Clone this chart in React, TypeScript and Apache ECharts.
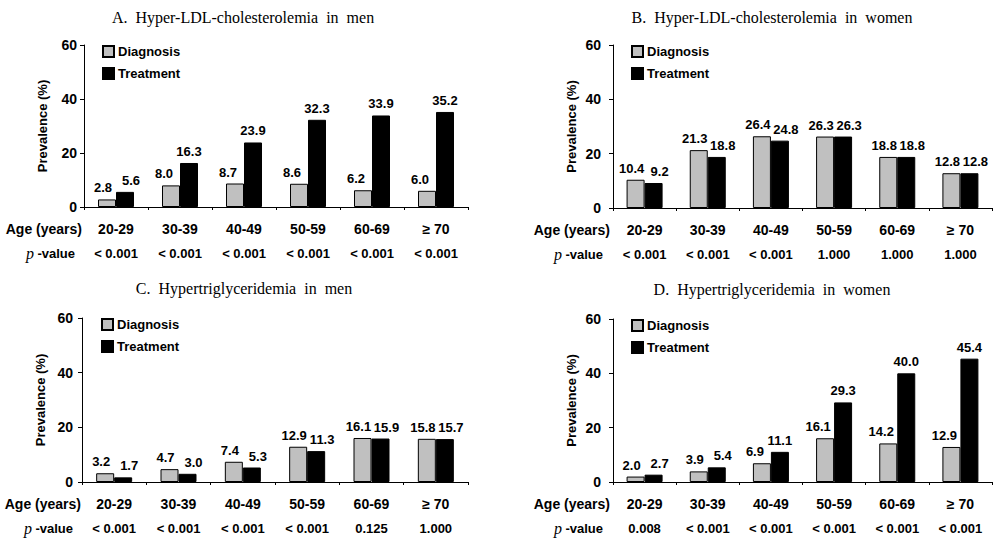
import React, { useEffect, useRef } from "react";
import * as echarts from "echarts";

const categories = ["20-29", "30-39", "40-49", "50-59", "60-69", "≥ 70"];
const titles = [
  "A.  Hyper-LDL-cholesterolemia  in  men",
  "B.  Hyper-LDL-cholesterolemia  in  women",
  "C.  Hypertriglyceridemia  in  men",
  "D.  Hypertriglyceridemia  in  women",
];
const diagA = [2.8, 8.0, 8.7, 8.6, 6.2, 6.0];
const treatA = [5.6, 16.3, 23.9, 32.3, 33.9, 35.2];
const diagB = [10.4, 21.3, 26.4, 26.3, 18.8, 12.8];
const treatB = [9.2, 18.8, 24.8, 26.3, 18.8, 12.8];
const diagC = [3.2, 4.7, 7.4, 12.9, 16.1, 15.8];
const treatC = [1.7, 3.0, 5.3, 11.3, 15.9, 15.7];
const diagD = [2.0, 3.9, 6.9, 16.1, 14.2, 12.9];
const treatD = [2.7, 5.4, 11.1, 29.3, 40.0, 45.4];
const pA = ["< 0.001", "< 0.001", "< 0.001", "< 0.001", "< 0.001", "< 0.001"];
const pB = ["< 0.001", "< 0.001", "< 0.001", "1.000", "1.000", "1.000"];
const pC = ["< 0.001", "< 0.001", "< 0.001", "< 0.001", "0.125", "1.000"];
const pD = ["0.008", "< 0.001", "< 0.001", "< 0.001", "< 0.001", "< 0.001"];
const yTicks = { min: 0, max: 60, interval: 20 };

const SANS = "Liberation Sans";
const SERIF = "Liberation Serif";

const panels = [
  { diag: diagA, treat: treatA, p: pA, grid: { left: 84, top: 45, width: 384, height: 162 }, titleX: 238, titleY: 4, labelMargin: 7, legend: { left: 97, top: 40 }, ageX: 82, pX: 75 },
  { diag: diagB, treat: treatB, p: pB, grid: { left: 613, top: 45, width: 379, height: 163 }, titleX: 767, titleY: 4, labelMargin: 12, legend: { left: 626, top: 40 }, ageX: 610, pX: 603 },
  { diag: diagC, treat: treatC, p: pC, grid: { left: 82, top: 318, width: 386, height: 164 }, titleX: 239, titleY: 275, labelMargin: 9, legend: { left: 96, top: 313 }, ageX: 81, pX: 73 },
  { diag: diagD, treat: treatD, p: pD, grid: { left: 613, top: 319, width: 379, height: 163 }, titleX: 767, titleY: 276, labelMargin: 12, legend: { left: 626, top: 314 }, ageX: 610, pX: 603 },
];

export default function App() {
  const ref = useRef<HTMLDivElement>(null);
  useEffect(() => {
    document.body.style.margin = "0";
    if (!ref.current) return;
    const chart = echarts.init(ref.current, null, { renderer: "svg" });
    const labelStyle = {
      show: true,
      position: "top",
      distance: 5,
      fontFamily: SANS,
      fontWeight: "bold",
      fontSize: 13,
      color: "#000",
      formatter: (p: any) => Number(p.value).toFixed(1),
    };
    const close = (a: number, b: number) => Math.abs(a - b) < 4;
    const diagShift = (d: number, t: number) => (close(d, t) ? -4 : t > d ? -7 : 0);
    const treatShift = (t: number, d: number) => (close(t, d) ? 6 : 0);
    const option: any = {
      animation: false,
      backgroundColor: "#fff",
      title: panels.map((pn, i) => ({
        text: titles[i],
        left: pn.titleX,
        top: pn.titleY,
        textAlign: "center",
        textStyle: { fontFamily: SERIF, fontSize: 16, fontWeight: "normal", color: "#000" },
      })),
      legend: panels.map((pn) => ({
        data: ["Diagnosis", "Treatment"],
        orient: "vertical",
        left: pn.legend.left,
        top: pn.legend.top,
        itemWidth: 11,
        itemHeight: 11,
        itemGap: 9,
        icon: "rect",
        selectedMode: false,
        textStyle: { fontFamily: SANS, fontWeight: "bold", fontSize: 13, color: "#000", padding: [0, 0, 0, -1] },
      })),
      grid: panels.map((pn) => ({ ...pn.grid, containLabel: false })),
      xAxis: panels.map((pn, i) => ({
        type: "category",
        gridIndex: i,
        data: categories,
        axisLine: { lineStyle: { color: "#000", width: 1 } },
        axisTick: { show: true, length: 3, lineStyle: { color: "#000" } },
        axisLabel: {
          interval: 0,
          margin: 10,
          formatter: (v: string, idx: number) => `{a|${v}}\n{b|${pn.p[idx]}}`,
          rich: {
            a: { fontFamily: SANS, fontWeight: "bold", fontSize: 14, lineHeight: 24, color: "#000" },
            b: { fontFamily: SANS, fontWeight: "bold", fontSize: 13, lineHeight: 24, color: "#000" },
          },
        },
      })),
      yAxis: panels.map((pn, i) => ({
        type: "value",
        gridIndex: i,
        ...yTicks,
        name: "Prevalence (%)",
        nameLocation: "middle",
        nameGap: 35,
        nameTextStyle: { fontFamily: SANS, fontWeight: "bold", fontSize: 13, color: "#000" },
        splitLine: { show: false },
        axisLine: { show: true, lineStyle: { color: "#000", width: 1 } },
        axisTick: { show: true, length: 4, lineStyle: { color: "#000" } },
        axisLabel: { margin: pn.labelMargin, fontFamily: SANS, fontWeight: "bold", fontSize: 14, color: "#000" },
      })),
      series: panels.flatMap((pn, i) => [
        {
          name: "Diagnosis",
          type: "bar",
          xAxisIndex: i,
          yAxisIndex: i,
          data: pn.diag.map((v, k) => ({ value: v, label: { offset: [diagShift(v, pn.treat[k]), 0] } })),
          barWidth: 18,
          barGap: "0%",
          itemStyle: { color: "#c0c0c0", borderColor: "#000", borderWidth: 1 },
          label: labelStyle,
        },
        {
          name: "Treatment",
          type: "bar",
          xAxisIndex: i,
          yAxisIndex: i,
          data: pn.treat.map((v, k) => ({ value: v, label: { offset: [treatShift(v, pn.diag[k]), 0] } })),
          barWidth: 18,
          barGap: "0%",
          itemStyle: { color: "#000", borderColor: "#000", borderWidth: 1 },
          label: labelStyle,
        },
      ]),
      graphic: panels.flatMap((pn) => [
        {
          type: "text",
          x: pn.ageX,
          y: pn.grid.top + pn.grid.height + 22,
          style: {
            text: "Age (years)",
            align: "right",
            verticalAlign: "middle",
            fontFamily: SANS,
            fontWeight: "bold",
            fontSize: 14,
            fill: "#000",
          },
        },
        {
          type: "text",
          x: pn.pX,
          y: pn.grid.top + pn.grid.height + 46,
          style: {
            text: "{p|p} {v|-value}",
            align: "right",
            verticalAlign: "middle",
            rich: {
              p: { fontFamily: SERIF, fontStyle: "italic", fontSize: 16, fill: "#000" },
              v: { fontFamily: SANS, fontWeight: "bold", fontSize: 13, fill: "#000" },
            },
          },
        },
      ]),
    };
    chart.setOption(option);
    return () => chart.dispose();
  }, []);
  return <div ref={ref} style={{ width: 997, height: 540 }} />;
}
